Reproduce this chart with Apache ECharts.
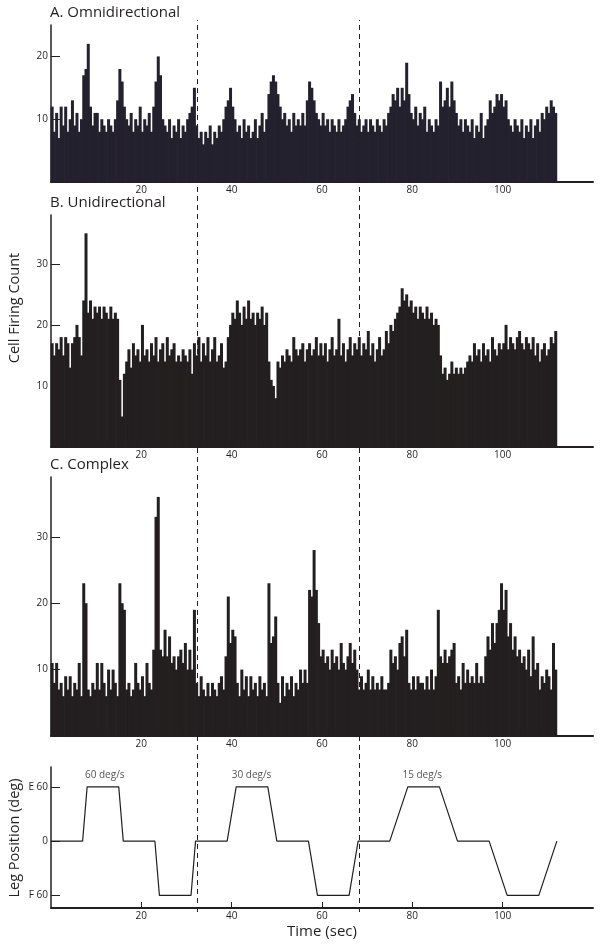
<!DOCTYPE html>
<html>
<head>
<meta charset="utf-8">
<script src="https://cdn.jsdelivr.net/npm/echarts@6/dist/echarts.min.js"></script>
<style>
html, body { margin: 0; padding: 0; background: #fff; }
#container { width: 602px; height: 946px; }
</style>
</head>
<body>
<div id="container"></div>
<script>
// spike counts per 0.5 s bin, 0 .. 112 s
var binWidth = 0.5;
var omniCounts = [
    12,8,11,7,12,9,12,8,10,13,9,11,8,10,17,18,22,12,9,11,
    11,8,10,9,8,10,9,8,10,13,18,16,12,10,9,11,8,10,9,12,
    8,10,9,11,8,12,16,20,17,10,9,8,10,7,9,8,10,7,9,8,
    10,11,12,15,9,7,8,6,8,7,9,6,8,7,9,8,10,12,13,15,
    12,10,8,9,7,10,8,9,7,8,10,7,9,11,8,10,14,16,17,16,
    14,12,10,11,9,10,8,11,9,10,9,11,9,13,16,15,13,11,10,9,
    11,9,10,8,10,9,8,10,8,9,10,12,13,14,11,9,10,8,9,10,
    8,10,9,8,10,9,8,10,9,11,12,14,13,15,12,15,13,19,14,11,
    10,12,9,11,10,12,8,10,9,8,10,9,16,12,13,15,12,16,13,11,
    9,10,8,10,9,8,10,7,9,8,11,7,9,10,13,11,12,14,13,14,
    12,13,10,9,8,10,9,8,10,7,9,8,10,7,9,10,8,11,10,12,
    11,13,12,11
];
var uniCounts = [
    17,15,17,16,18,15,18,17,13,17,18,20,18,15,24,35,22,24,21,23,
    22,23,21,23,22,21,23,21,22,21,11,5,12,14,16,13,17,15,16,14,
    20,15,16,14,17,15,18,14,16,17,14,18,15,16,17,14,15,14,16,15,
    14,16,12,17,15,18,14,17,15,18,14,16,18,14,15,17,13,14,18,20,
    22,21,24,22,20,23,21,24,21,22,20,22,21,23,20,22,14,11,10,8,
    14,13,15,14,16,15,14,18,16,15,16,17,14,16,17,15,16,18,15,17,
    15,17,14,16,18,15,16,21,15,17,14,16,18,15,17,16,18,15,17,16,
    19,15,17,14,16,18,15,16,19,17,20,19,21,22,23,26,24,25,23,24,
    22,23,21,23,22,21,23,21,22,20,21,20,15,12,13,11,12,14,12,13,
    12,13,12,13,14,15,14,17,15,16,14,17,15,16,14,18,16,15,17,16,
    17,20,16,18,17,16,18,19,17,16,18,17,16,18,15,17,14,16,17,15,
    16,18,17,19
];
var complexCounts = [
    11,8,11,7,8,6,9,7,9,6,8,7,11,6,23,20,7,6,8,7,
    11,7,11,8,6,10,7,10,8,6,23,20,19,7,8,6,7,11,8,7,
    9,6,11,8,7,13,33,36,13,12,16,12,15,11,12,10,12,13,11,14,
    10,13,10,19,8,6,9,7,6,8,6,8,7,6,8,9,7,12,21,14,
    16,15,8,6,10,7,9,6,9,7,8,6,9,7,8,6,23,14,15,18,
    8,5,9,6,8,7,9,6,8,7,10,8,10,8,22,21,28,22,17,12,
    13,11,12,10,13,11,12,10,14,11,10,12,14,11,13,10,7,9,7,8,
    10,7,9,7,8,7,9,7,7,8,13,11,12,10,14,15,12,16,8,7,
    9,7,9,8,8,7,9,7,10,7,9,19,12,11,13,11,12,13,14,8,
    9,7,11,8,10,8,9,8,11,8,9,8,12,15,13,17,14,17,19,23,
    19,22,15,17,13,15,12,13,11,12,10,13,9,15,10,11,7,9,8,10,
    9,7,14,10
];

// leg position trace (sec, deg)
var legTimes  = [0, 7, 8, 15, 16, 23, 24, 31, 32, 39, 41, 48, 50, 57, 59, 66, 68, 75, 79, 86, 90, 97, 101, 108, 112];
var legAngles = [0, 0, 60, 60, 0, 0, -60, -60, 0, 0, 60, 60, 0, 0, -60, -60, 0, 0, 60, 60, 0, 0, -60, -60, 0];

var speedLabels = ['60 deg/s', '30 deg/s', '15 deg/s'];
var speedTimes = [11.9, 44.4, 82.2];
var speedLevel = 60;

var stimulusMarks = [32.3, 68.3];
var timeTicks = [20, 40, 60, 80, 100];
var panelTitles = ['A. Omnidirectional', 'B. Unidirectional', 'C. Complex'];

var ink = '#231f20';
var fontFam = '"Open Sans", "Noto Sans", sans-serif';

function toBars(counts) {
    return counts.map(function (v, i) {
        return [i * binWidth + binWidth / 2, v];
    });
}

var dom = document.getElementById('container');
var myChart = echarts.init(dom);

var grids = [
    {left: 51, right: 9, top: 25, height: 157},
    {left: 51, right: 9, top: 215, height: 232},
    {left: 51, right: 9, top: 477, height: 259},
    {left: 51, right: 9, top: 767, height: 141},
    {left: 51, right: 9, top: 20, height: 892}
];

var xAxes = [];
for (var i = 0; i < 4; i++) {
    xAxes.push({
        type: 'value',
        gridIndex: i,
        min: 0,
        max: 120,
        axisLine: {onZero: false, lineStyle: {color: ink, width: 2}},
        axisTick: {inside: true, length: 6, customValues: timeTicks, lineStyle: {color: ink}},
        axisLabel: {customValues: timeTicks, fontSize: 10, color: ink, margin: 3, fontFamily: fontFam},
        splitLine: {show: false}
    });
}
xAxes[3].name = 'Time (sec)';
xAxes[3].nameLocation = 'middle';
xAxes[3].nameGap = 16;
xAxes[3].nameTextStyle = {fontSize: 15, color: ink, fontFamily: fontFam};
xAxes.push({type: 'value', gridIndex: 4, min: 0, max: 120, show: false});

function countAxis(idx, max, ticks) {
    return {
        type: 'value',
        gridIndex: idx,
        min: 0,
        max: max,
        axisLine: {show: true, lineStyle: {color: ink, width: 1.5}},
        axisTick: {show: true, inside: true, length: 9, customValues: ticks, lineStyle: {color: ink}},
        axisLabel: {customValues: ticks, fontSize: 10, color: ink, margin: 3, fontFamily: fontFam},
        splitLine: {show: false}
    };
}

var yAxes = [
    countAxis(0, 25, [10, 20]),
    countAxis(1, 38, [10, 20, 30]),
    countAxis(2, 39, [10, 20, 30]),
    {
        type: 'value',
        gridIndex: 3,
        min: -74,
        max: 82,
        axisLine: {show: true, lineStyle: {color: ink, width: 1.5}},
        axisTick: {show: true, inside: true, length: 9, customValues: [-60, 0, 60], lineStyle: {color: ink}},
        axisLabel: {
            customValues: [-60, 0, 60], fontSize: 10, color: ink, margin: 3, fontFamily: fontFam,
            formatter: function (v) {
                if (v > 0) return 'E ' + v;
                if (v < 0) return 'F ' + (-v);
                return '0';
            }
        },
        splitLine: {show: false}
    },
    {type: 'value', gridIndex: 4, min: 0, max: 1, show: false}
];

function histSeries(idx, counts, color) {
    return {
        type: 'bar',
        xAxisIndex: idx,
        yAxisIndex: idx,
        data: toBars(counts),
        barWidth: 3,
        itemStyle: {color: color, borderWidth: 0},
        silent: true,
        animation: false
    };
}

var option = {
    animation: false,
    textStyle: {fontFamily: fontFam},
    title: panelTitles.map(function (t, i) {
        return {
            text: t,
            left: 50,
            top: [5, 195, 457][i],
            padding: 0,
            textStyle: {fontSize: 15, fontWeight: 'normal', color: ink, fontFamily: fontFam}
        };
    }),
    grid: grids,
    xAxis: xAxes,
    yAxis: yAxes,
    graphic: [
        {
            type: 'text', x: 15, y: 308, rotation: Math.PI / 2,
            style: {text: 'Cell Firing Count', fill: ink, font: '14.5px ' + fontFam, align: 'center', verticalAlign: 'middle'}
        },
        {
            type: 'text', x: 15, y: 838, rotation: Math.PI / 2,
            style: {text: 'Leg Position (deg)', fill: ink, font: '14.5px ' + fontFam, align: 'center', verticalAlign: 'middle'}
        }
    ],
    series: [
        histSeries(0, omniCounts, '#24212f'),
        histSeries(1, uniCounts, ink),
        histSeries(2, complexCounts, ink),
        {
            type: 'line',
            xAxisIndex: 3,
            yAxisIndex: 3,
            data: legTimes.map(function (t, i) { return [t, legAngles[i]]; }),
            symbol: 'none',
            lineStyle: {color: ink, width: 1.2}
        },
        {
            type: 'scatter',
            xAxisIndex: 3,
            yAxisIndex: 3,
            symbolSize: 0,
            data: speedTimes.map(function (t, i) { return {name: speedLabels[i], value: [t, speedLevel]}; }),
            label: {
                show: true, position: 'top', distance: 7, formatter: '{b}',
                fontSize: 10, color: ink, fontFamily: fontFam
            },
            silent: true
        },
        {
            type: 'line',
            xAxisIndex: 4,
            yAxisIndex: 4,
            data: [],
            markLine: {
                silent: true,
                symbol: 'none',
                label: {show: false},
                lineStyle: {color: ink, width: 1, type: [5, 4]},
                data: stimulusMarks.map(function (t) { return {xAxis: t}; })
            }
        }
    ]
};

myChart.setOption(option);
</script>
</body>
</html>
